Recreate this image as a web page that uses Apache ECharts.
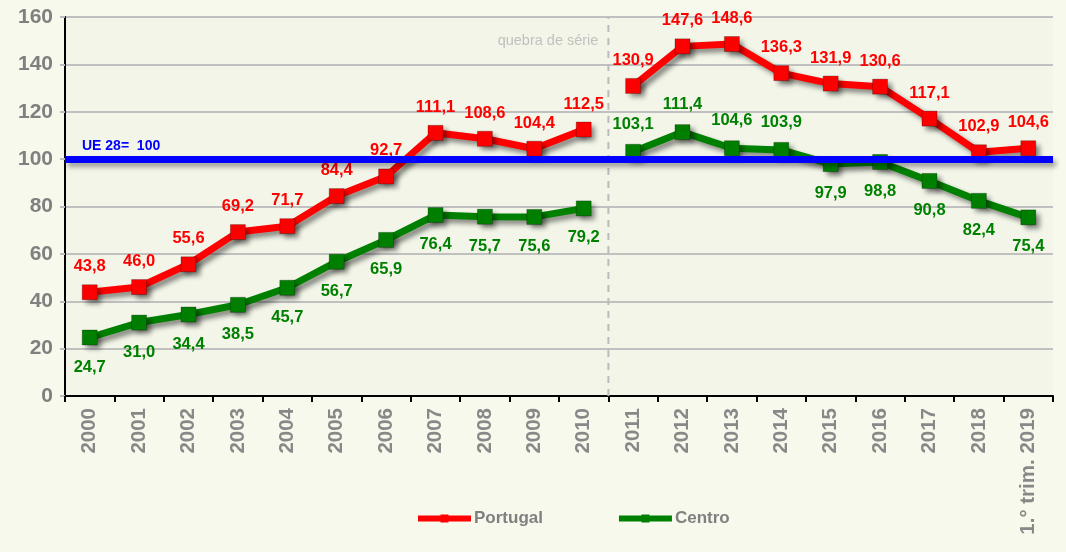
<!DOCTYPE html>
<html>
<head>
<meta charset="utf-8">
<script src="https://cdn.jsdelivr.net/npm/echarts@6/dist/echarts.min.js"></script>
<style>
  html, body { margin: 0; padding: 0; background: #f6f9ec; }
  #chart { width: 1066px; height: 552px; }
</style>
</head>
<body>
<div id="chart"></div>
<script>
// Categories (years) and values, index UE 28 = 100
const years = ['2000','2001','2002','2003','2004','2005','2006','2007','2008','2009',
               '2010','2011','2012','2013','2014','2015','2016','2017','2018','1.° trim. 2019'];
const portugal = [43.8, 46.0, 55.6, 69.2, 71.7, 84.4, 92.7, 111.1, 108.6, 104.4,
                  112.5, 130.9, 147.6, 148.6, 136.3, 131.9, 130.6, 117.1, 102.9, 104.6];
const centro = [24.7, 31.0, 34.4, 38.5, 45.7, 56.7, 65.9, 76.4, 75.7, 75.6,
                79.2, 103.1, 111.4, 104.6, 103.9, 97.9, 98.8, 90.8, 82.4, 75.4];
const euReference = 100;
const yTicks = [0, 20, 40, 60, 80, 100, 120, 140, 160];
// first category of the new series
const breakIndex = 11;
const breakText = 'quebra de série';
const breakTextLevel = 150;

// Centro labels drawn above the line for these years
const centroAbove = [11, 12, 13, 14];

const FONT = 'Liberation Sans, Arial, sans-serif';
const fmt = v => v.toFixed(1).replace('.', ',');

function segment(values, first) {
  return values.map((v, i) => (first ? i < breakIndex : i >= breakIndex) ? v : null);
}

const shadow = {
  shadowColor: 'rgba(0,0,0,0.45)',
  shadowBlur: 5,
  shadowOffsetX: 4,
  shadowOffsetY: 4
};

function lineSeries(name, values, first, color, labelFor) {
  return {
    name: name,
    type: 'line',
    xAxisIndex: 0,
    yAxisIndex: 0,
    z: 3,
    data: segment(values, first).map((v, i) => v === null ? null : {
      value: v,
      label: labelFor(i)
    }),
    connectNulls: false,
    symbol: 'rect',
    symbolSize: 15,
    lineStyle: Object.assign({ color: color, width: 7 }, shadow),
    itemStyle: Object.assign({ color: color, borderColor: 'rgba(0,0,0,0.25)', borderWidth: 1 }, shadow),
    label: {
      show: true,
      color: color,
      fontFamily: FONT,
      fontWeight: 'bold',
      fontSize: 16.5,
      formatter: p => fmt(p.value)
    },
    emphasis: { disabled: true },
    animation: false
  };
}

const red = '#ff0000';
const green = '#008000';

const portugalLabel = () => ({ position: 'top', distance: 9 });
const centroLabel = i => centroAbove.includes(i)
  ? { position: 'top', distance: 11 }
  : { position: 'bottom', distance: 13 };

const chart = echarts.init(document.getElementById('chart'));
chart.setOption({
  backgroundColor: '#f6f9ec',
  animation: false,
  grid: {
    left: 65, right: 13, top: 17, bottom: 156,
    show: true, backgroundColor: '#f2f5e8', borderWidth: 0
  },
  legend: {
    data: [
      { name: 'Portugal' },
      { name: 'Centro' }
    ],
    left: 410,
    top: 505,
    itemWidth: 53,
    itemHeight: 10,
    itemGap: 73,
    lineStyle: { width: 6, shadowBlur: 0, shadowOffsetX: 0, shadowOffsetY: 0 },
    itemStyle: { shadowBlur: 0, shadowOffsetX: 0, shadowOffsetY: 0, borderWidth: 0 },
    textStyle: { color: '#808080', fontFamily: FONT, fontWeight: 'bold', fontSize: 17, padding: [0, 0, 0, -2] },
    selectedMode: false
  },
  xAxis: [{
    type: 'category',
    data: years,
    boundaryGap: true,
    axisLine: { lineStyle: { color: '#000', width: 2 } },
    axisTick: { show: true, length: 6, lineStyle: { color: '#000', width: 2 } },
    axisLabel: {
      rotate: 90,
      interval: 0,
      margin: 12,
      color: '#888888',
      fontFamily: FONT,
      fontWeight: 'bold',
      fontSize: 20.5
    },
    splitLine: { show: false }
  }, {
    type: 'value',
    min: 0,
    max: years.length,
    show: false
  }],
  yAxis: {
    type: 'value',
    min: yTicks[0],
    max: yTicks[yTicks.length - 1],
    interval: yTicks[1] - yTicks[0],
    axisLine: { show: true, lineStyle: { color: '#000', width: 2 } },
    axisTick: { show: true, length: 5, lineStyle: { color: '#bdbdbd', width: 2 } },
    axisLabel: {
      color: '#808080',
      fontFamily: FONT,
      fontWeight: 'bold',
      fontSize: 21,
      margin: 12
    },
    splitLine: { lineStyle: { color: '#c0c0c0', width: 2 } }
  },
  series: [
    // series break marker
    {
      type: 'line',
      xAxisIndex: 1,
      yAxisIndex: 0,
      z: 1,
      data: [[breakIndex, 0], [breakIndex, 160]],
      symbol: 'none',
      lineStyle: { color: '#bbbbbb', width: 2, type: [7, 6] },
      silent: true
    },
    {
      type: 'scatter',
      xAxisIndex: 1,
      yAxisIndex: 0,
      data: [[breakIndex, breakTextLevel]],
      symbolSize: 0,
      silent: true,
      label: {
        show: true,
        position: 'left',
        distance: 10,
        formatter: breakText,
        color: '#b4b4b4',
        fontFamily: FONT,
        fontSize: 14.5
      }
    },
    // UE 28 reference line
    {
      name: 'UE 28',
      type: 'line',
      z: 2,
      data: [],
      markLine: {
        silent: true,
        symbol: 'none',
        animation: false,
        lineStyle: {
          color: '#0000ff', width: 7, type: 'solid',
          shadowColor: 'rgba(0,0,0,0.35)', shadowBlur: 5, shadowOffsetX: 3, shadowOffsetY: 4
        },
        label: {
          show: true,
          position: 'insideStartTop',
          distance: [17, 6],
          formatter: 'UE 28=  ' + euReference,
          color: '#0000ff',
          fontFamily: FONT,
          fontWeight: 'bold',
          fontSize: 14
        },
        data: [{ yAxis: euReference }]
      }
    },
    lineSeries('Portugal', portugal, true, red, portugalLabel),
    lineSeries('Portugal', portugal, false, red, portugalLabel),
    lineSeries('Centro', centro, true, green, centroLabel),
    lineSeries('Centro', centro, false, green, centroLabel)
  ]
});
</script>
</body>
</html>
